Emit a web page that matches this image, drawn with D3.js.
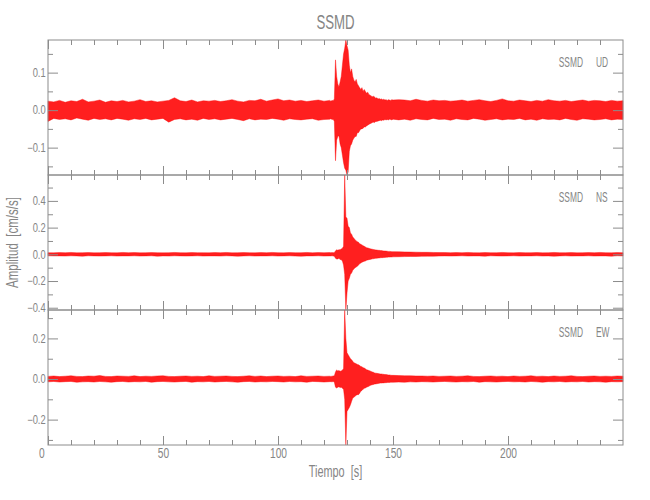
<!DOCTYPE html>
<html>
<head>
<meta charset="utf-8">
<script src="https://cdn.jsdelivr.net/npm/d3@7"></script>
<style>
  html, body { margin: 0; padding: 0; background: #ffffff; }
  svg { display: block; }
  text { font-family: "Liberation Sans", Arial, sans-serif; fill: #858585; white-space: pre; }
</style>
</head>
<body>
<div id="chart"></div>
<script>
// ---------------- DATA ----------------
const chartTitle = "SSMD";
const stationName = "SSMD";
const components = ["UD", "NS", "EW"];
const xAxisTitle = "Tiempo  [s]";
const yAxisTitle = "Amplitud  [cm/s/s]";

// time of each envelope sample, seconds
const timeSec = [
  0,2.5,5,7.5,10,12.5,15,17.5,20,22.5,
  25,27.5,30,32.5,35,37.5,40,42.5,45,47.5,
  50,52.5,55,57.5,60,62.5,65,67.5,70,72.5,
  75,77.5,80,82.5,85,87.5,90,92.5,95,97.5,
  100,102.5,105,107.5,110,112.5,115,117.5,120,122.5,
  123,123.5,124,124.5,125,125.5,126,126.5,127,127.5,
  128,128.5,129,129.5,130,130.5,131,131.5,132,132.5,
  133,133.5,134,134.5,135,135.5,136,136.5,137,137.5,
  138,138.5,139,139.5,140,140.5,141,141.5,142,142.5,
  143,143.5,144,144.5,145,145.5,146,146.5,147,147.5,
  148,148.5,149,149.5,150,
  152.5,155,157.5,160,162.5,165,167.5,170,172.5,175,
  177.5,180,182.5,185,187.5,190,192.5,195,197.5,200,
  202.5,205,207.5,210,212.5,215,217.5,220,222.5,225,
  227.5,230,232.5,235,237.5,240,242.5,245,247.5,250
];

// UD component: upper / lower envelope of the trace (cm/s/s)
const udMax = [
  0.024,0.022,0.026,0.021,0.025,0.023,0.029,0.022,0.024,0.027,
  0.021,0.025,0.023,0.026,0.022,0.024,0.028,0.023,0.025,0.022,
  0.024,0.026,0.033,0.025,0.023,0.027,0.022,0.025,0.024,0.026,
  0.023,0.025,0.028,0.024,0.022,0.026,0.025,0.029,0.024,0.027,
  0.030,0.025,0.027,0.024,0.026,0.023,0.025,0.027,0.024,0.026,
  0.024,0.026,0.025,0.030,0.134,0.090,0.070,0.062,0.075,0.090,
  0.120,0.150,0.165,0.187,0.172,0.160,0.120,0.100,0.110,0.090,
  0.080,0.075,0.082,0.070,0.065,0.060,0.055,0.060,0.050,0.055,
  0.050,0.045,0.048,0.042,0.040,0.038,0.036,0.037,0.035,0.032,
  0.033,0.030,0.031,0.029,0.030,0.028,0.029,0.027,0.028,0.026,
  0.028,0.027,0.026,0.028,0.027,
  0.028,0.027,0.025,0.029,0.026,0.024,0.027,0.025,0.026,0.024,
  0.025,0.027,0.024,0.026,0.028,0.025,0.023,0.026,0.030,0.025,
  0.024,0.027,0.025,0.023,0.026,0.024,0.028,0.025,0.024,0.026,
  0.023,0.025,0.027,0.024,0.026,0.025,0.023,0.026,0.024,0.025
];
const udMin = [
  -0.030,-0.022,-0.025,-0.023,-0.026,-0.021,-0.024,-0.027,-0.022,-0.025,
  -0.023,-0.026,-0.022,-0.024,-0.027,-0.023,-0.025,-0.022,-0.026,-0.024,
  -0.022,-0.032,-0.025,-0.023,-0.026,-0.024,-0.027,-0.022,-0.025,-0.023,
  -0.026,-0.024,-0.022,-0.025,-0.028,-0.023,-0.026,-0.024,-0.025,-0.022,
  -0.024,-0.027,-0.023,-0.025,-0.026,-0.024,-0.023,-0.027,-0.025,-0.024,
  -0.023,-0.025,-0.024,-0.030,-0.135,-0.080,-0.070,-0.068,-0.090,-0.100,
  -0.120,-0.140,-0.155,-0.160,-0.173,-0.165,-0.110,-0.095,-0.090,-0.080,
  -0.075,-0.070,-0.070,-0.060,-0.060,-0.055,-0.050,-0.050,-0.048,-0.045,
  -0.045,-0.042,-0.040,-0.038,-0.036,-0.035,-0.033,-0.032,-0.033,-0.030,
  -0.030,-0.029,-0.028,-0.027,-0.028,-0.026,-0.027,-0.025,-0.026,-0.025,
  -0.026,-0.024,-0.025,-0.026,-0.024,
  -0.026,-0.024,-0.027,-0.023,-0.025,-0.026,-0.022,-0.025,-0.024,-0.027,
  -0.023,-0.025,-0.026,-0.022,-0.024,-0.027,-0.025,-0.023,-0.026,-0.024,
  -0.025,-0.022,-0.026,-0.024,-0.027,-0.023,-0.025,-0.024,-0.026,-0.022,
  -0.025,-0.027,-0.023,-0.024,-0.026,-0.025,-0.023,-0.026,-0.024,-0.025
];

// NS component
const nsMax = [
  0.012,0.011,0.013,0.012,0.014,0.011,0.012,0.013,0.011,0.012,
  0.013,0.012,0.011,0.014,0.012,0.013,0.011,0.012,0.013,0.012,
  0.011,0.012,0.014,0.012,0.011,0.013,0.012,0.012,0.011,0.013,
  0.012,0.014,0.011,0.012,0.013,0.012,0.011,0.013,0.012,0.014,
  0.012,0.011,0.013,0.012,0.012,0.014,0.011,0.013,0.012,0.013,
  0.012,0.013,0.012,0.014,0.025,0.035,0.030,0.035,0.035,0.040,
  0.045,0.060,0.594,0.280,0.270,0.210,0.200,0.160,0.150,0.130,
  0.120,0.110,0.100,0.095,0.090,0.080,0.075,0.070,0.065,0.060,
  0.055,0.050,0.048,0.045,0.042,0.040,0.038,0.036,0.035,0.033,
  0.032,0.030,0.030,0.028,0.028,0.026,0.025,0.025,0.024,0.023,
  0.022,0.022,0.021,0.020,0.020,
  0.019,0.018,0.017,0.016,0.015,0.015,0.014,0.013,0.013,0.012,
  0.013,0.012,0.014,0.012,0.011,0.013,0.012,0.012,0.014,0.012,
  0.011,0.013,0.012,0.012,0.013,0.011,0.012,0.014,0.012,0.012,
  0.013,0.011,0.012,0.013,0.012,0.014,0.012,0.011,0.013,0.012
];
const nsMin = [
  -0.011,-0.012,-0.012,-0.013,-0.011,-0.012,-0.014,-0.011,-0.012,-0.013,
  -0.012,-0.011,-0.013,-0.012,-0.012,-0.011,-0.013,-0.012,-0.011,-0.014,
  -0.012,-0.013,-0.011,-0.012,-0.013,-0.012,-0.011,-0.013,-0.012,-0.012,
  -0.013,-0.011,-0.012,-0.014,-0.012,-0.011,-0.013,-0.012,-0.012,-0.011,
  -0.013,-0.012,-0.011,-0.013,-0.014,-0.012,-0.012,-0.011,-0.013,-0.012,
  -0.012,-0.011,-0.013,-0.014,-0.030,-0.035,-0.035,-0.030,-0.038,-0.040,
  -0.050,-0.080,-0.150,-0.417,-0.290,-0.200,-0.180,-0.150,-0.140,-0.120,
  -0.110,-0.100,-0.095,-0.090,-0.080,-0.070,-0.065,-0.060,-0.055,-0.052,
  -0.050,-0.045,-0.042,-0.040,-0.038,-0.036,-0.034,-0.033,-0.031,-0.030,
  -0.029,-0.028,-0.027,-0.026,-0.025,-0.025,-0.024,-0.023,-0.022,-0.022,
  -0.021,-0.021,-0.020,-0.020,-0.019,
  -0.018,-0.017,-0.016,-0.016,-0.015,-0.014,-0.014,-0.013,-0.012,-0.013,
  -0.012,-0.011,-0.013,-0.012,-0.012,-0.014,-0.011,-0.012,-0.013,-0.012,
  -0.011,-0.013,-0.012,-0.012,-0.011,-0.013,-0.012,-0.014,-0.012,-0.011,
  -0.013,-0.012,-0.012,-0.011,-0.013,-0.012,-0.012,-0.014,-0.011,-0.012
];

// EW component
const ewMax = [
  0.013,0.015,0.012,0.014,0.016,0.013,0.012,0.015,0.014,0.017,
  0.013,0.012,0.015,0.014,0.013,0.016,0.012,0.014,0.013,0.015,
  0.016,0.013,0.012,0.014,0.015,0.013,0.014,0.012,0.016,0.013,
  0.014,0.015,0.013,0.012,0.014,0.016,0.013,0.015,0.012,0.014,
  0.015,0.013,0.014,0.012,0.016,0.013,0.014,0.015,0.013,0.014,
  0.013,0.014,0.015,0.016,0.035,0.045,0.040,0.042,0.038,0.040,
  0.045,0.050,0.340,0.200,0.130,0.120,0.110,0.100,0.095,0.087,
  0.080,0.078,0.075,0.072,0.070,0.066,0.062,0.060,0.056,0.054,
  0.050,0.046,0.044,0.042,0.040,0.037,0.035,0.033,0.030,0.029,
  0.028,0.027,0.026,0.025,0.025,0.024,0.023,0.022,0.022,0.021,
  0.020,0.020,0.019,0.018,0.018,
  0.017,0.016,0.016,0.015,0.015,0.014,0.015,0.013,0.014,0.015,
  0.013,0.014,0.016,0.013,0.012,0.014,0.015,0.013,0.014,0.012,
  0.015,0.013,0.014,0.016,0.013,0.014,0.012,0.015,0.013,0.014,
  0.016,0.013,0.012,0.014,0.015,0.013,0.014,0.013,0.015,0.014
];
const ewMin = [
  -0.014,-0.012,-0.015,-0.013,-0.012,-0.016,-0.014,-0.013,-0.015,-0.012,
  -0.014,-0.016,-0.013,-0.012,-0.015,-0.013,-0.014,-0.012,-0.016,-0.013,
  -0.012,-0.014,-0.015,-0.013,-0.012,-0.016,-0.013,-0.014,-0.012,-0.015,
  -0.013,-0.012,-0.014,-0.016,-0.013,-0.012,-0.015,-0.013,-0.014,-0.012,
  -0.013,-0.015,-0.012,-0.014,-0.013,-0.016,-0.012,-0.013,-0.015,-0.013,
  -0.013,-0.014,-0.012,-0.016,-0.040,-0.044,-0.040,-0.038,-0.042,-0.040,
  -0.046,-0.050,-0.100,-0.325,-0.160,-0.150,-0.140,-0.127,-0.110,-0.094,
  -0.090,-0.085,-0.080,-0.077,-0.077,-0.070,-0.060,-0.056,-0.050,-0.046,
  -0.044,-0.040,-0.038,-0.036,-0.032,-0.030,-0.028,-0.027,-0.025,-0.024,
  -0.023,-0.022,-0.021,-0.020,-0.020,-0.019,-0.019,-0.018,-0.018,-0.017,
  -0.017,-0.017,-0.016,-0.016,-0.016,
  -0.015,-0.016,-0.014,-0.015,-0.013,-0.014,-0.015,-0.013,-0.012,-0.014,
  -0.015,-0.013,-0.014,-0.012,-0.016,-0.013,-0.014,-0.015,-0.013,-0.012,
  -0.014,-0.013,-0.015,-0.012,-0.014,-0.016,-0.013,-0.014,-0.012,-0.015,
  -0.013,-0.014,-0.012,-0.015,-0.013,-0.014,-0.016,-0.013,-0.014,-0.013
];

// tick values
const xDomain = [0, 250];
const xMajorTicks = [0, 50, 100, 150, 200];
const xMinorTicks = [10,20,30,40,60,70,80,90,110,120,130,140,160,170,180,190,210,220,230,240];
const udMajorTicks = [-0.1, 0.0, 0.1];
const udMinorTicks = [-0.15, -0.05, 0.05, 0.15];
const nsMajorTicks = [-0.4, -0.2, 0.0, 0.2, 0.4];
const nsMinorTicks = [-0.3, -0.1, 0.1, 0.3, 0.5];
const ewMajorTicks = [-0.2, 0.0, 0.2];
const ewMinorTicks = [-0.3, -0.1, 0.1, 0.3];

// ---------------- LAYOUT ----------------
const W = 650, H = 500;
const plotLeft = 48, plotRight = 623;
const panelTops = [40, 175, 310];
const panelH = 135;
const axisColor = "#8c8c8c";
const textColor = "#858585";
const traceColor = "#ff0000";

const panels = [
  { comp: components[0], hi: udMax, lo: udMin, major: udMajorTicks, minor: udMinorTicks },
  { comp: components[1], hi: nsMax, lo: nsMin, major: nsMajorTicks, minor: nsMinorTicks },
  { comp: components[2], hi: ewMax, lo: ewMin, major: ewMajorTicks, minor: ewMinorTicks }
];
panels.forEach(p => {
  if (p.hi.length !== timeSec.length || p.lo.length !== timeSec.length)
    console.error("length mismatch", p.comp, p.hi.length, p.lo.length, timeSec.length);
});

const svg = d3.select("#chart").append("svg")
  .attr("width", W).attr("height", H);

const x = d3.scaleLinear().domain(xDomain).range([plotLeft, plotRight]);
const fmt = d3.format(".1f");

// narrow vector-font look: horizontally compressed text
function label(parent, str, px, py, size, sx, anchor, rotate) {
  const rot = rotate ? ` rotate(${rotate})` : "";
  return parent.append("text")
    .attr("transform", `translate(${px},${py})${rot} scale(${sx},1)`)
    .attr("text-anchor", anchor)
    .style("font-size", size + "px")
    .attr("fill", textColor)
    .text(str);
}

panels.forEach((p, i) => {
  const top = panelTops[i], bottom = top + panelH;
  const y = d3.scaleLinear()
    .domain([d3.min(p.lo), d3.max(p.hi)])
    .range([bottom, top]);

  const rows = timeSec.map((t, k) => ({ t, hi: p.hi[k], lo: p.lo[k] }));
  const area = d3.area()
    .x(d => x(d.t))
    .y0(d => y(d.lo))
    .y1(d => y(d.hi));

  const g = svg.append("g");

  g.append("path")
    .datum(rows)
    .attr("d", area)
    .attr("fill", traceColor)
    .attr("fill-opacity", 0.88)
    .attr("stroke", traceColor)
    .attr("stroke-opacity", 0.7)
    .attr("stroke-width", 0.6)
    .attr("stroke-linejoin", "round");

  // frame
  g.append("rect")
    .attr("x", plotLeft).attr("y", top)
    .attr("width", plotRight - plotLeft).attr("height", panelH)
    .attr("fill", "none").attr("stroke", axisColor).attr("stroke-width", 1);

  const styleAxis = (sel, size, sx) => {
    sel.select(".domain").remove();
    sel.selectAll(".tick line").attr("stroke", axisColor);
    sel.selectAll(".tick text").attr("fill", textColor)
      .style("font-size", (size || 12) + "px")
      .attr("font-family", null)
      .attr("transform", `scale(${sx || 0.78},1)`);
  };

  // left y axis, major + minor
  g.append("g").attr("transform", `translate(${plotLeft},0)`)
    .call(d3.axisLeft(y).tickValues(p.major).tickSize(-10).tickPadding(3).tickFormat(fmt))
    .call(styleAxis, 12, 0.78);
  g.append("g").attr("transform", `translate(${plotLeft},0)`)
    .call(d3.axisLeft(y).tickValues(p.minor).tickSize(-5).tickFormat(""))
    .call(styleAxis);
  // right y axis
  g.append("g").attr("transform", `translate(${plotRight},0)`)
    .call(d3.axisRight(y).tickValues(p.major).tickSize(-10).tickFormat(""))
    .call(styleAxis);
  g.append("g").attr("transform", `translate(${plotRight},0)`)
    .call(d3.axisRight(y).tickValues(p.minor).tickSize(-5).tickFormat(""))
    .call(styleAxis);
  // top x ticks
  g.append("g").attr("transform", `translate(0,${top})`)
    .call(d3.axisTop(x).tickValues(xMajorTicks).tickSize(-9).tickFormat(""))
    .call(styleAxis);
  g.append("g").attr("transform", `translate(0,${top})`)
    .call(d3.axisTop(x).tickValues(xMinorTicks).tickSize(-5).tickFormat(""))
    .call(styleAxis);
  // bottom x ticks (labels only on last panel)
  const last = i === panels.length - 1;
  const bx = g.append("g").attr("transform", `translate(0,${bottom})`)
    .call(d3.axisBottom(x).tickValues(xMajorTicks).tickSize(-9).tickPadding(3)
      .tickFormat(last ? d3.format("d") : ""))
    .call(styleAxis, 14, 0.73);
  if (last) {
    bx.selectAll(".tick text").filter(d => d === xDomain[0]).attr("dx", -9);
  }
  g.append("g").attr("transform", `translate(0,${bottom})`)
    .call(d3.axisBottom(x).tickValues(xMinorTicks).tickSize(-5).tickFormat(""))
    .call(styleAxis);

  // panel label
  label(g, stationName, 583, top + 27, 14, 0.6, "end");
  label(g, p.comp, 596, top + 27, 14, 0.6, "start");
});

// title
label(svg, chartTitle, (plotLeft + plotRight) / 2, 29, 21, 0.63, "middle");

// axis titles
label(svg, xAxisTitle, (plotLeft + plotRight) / 2, 477, 16, 0.68, "middle");
label(svg, yAxisTitle, 18, (panelTops[0] + panelTops[2] + panelH) / 2, 16, 0.72, "middle", -90);
</script>
</body>
</html>
